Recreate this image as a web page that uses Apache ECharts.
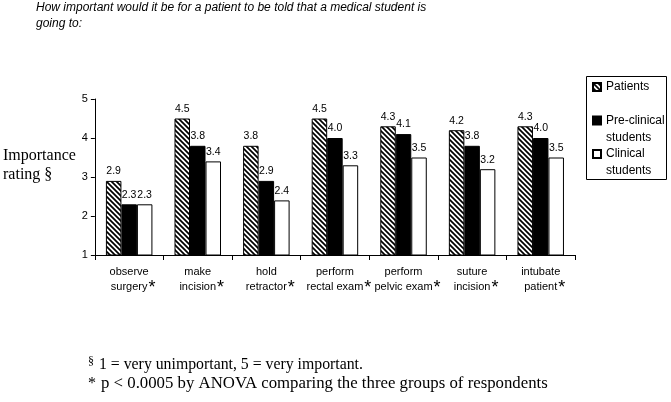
<!DOCTYPE html>
<html>
<head>
<meta charset="utf-8">
<script src="https://cdn.jsdelivr.net/npm/echarts@6/dist/echarts.min.js"></script>
<style>html,body{margin:0;padding:0;background:#fff;}#c{width:671px;height:402px;}</style>
</head>
<body>
<div id="c"></div>
<script>
const categories = ['observe\nsurgery', 'make\nincision', 'hold\nretractor', 'perform\nrectal exam', 'perform\npelvic exam', 'suture\nincision', 'intubate\npatient'];
const patients = [2.9, 4.5, 3.8, 4.5, 4.3, 4.2, 4.3];
const preclinical = [2.3, 3.8, 2.9, 4.0, 4.1, 3.8, 4.0];
const clinical = [2.3, 3.4, 2.4, 3.3, 3.5, 3.2, 3.5];
const seriesNames = ['Patients', 'Pre-clinical\nstudents', 'Clinical\nstudents'];
const yTicks = [1, 2, 3, 4, 5];

function hatch() {
  const c = document.createElement('canvas');
  c.width = 5; c.height = 5;
  const g = c.getContext('2d');
  g.fillStyle = '#fff'; g.fillRect(0, 0, 5, 5);
  g.strokeStyle = '#000'; g.lineWidth = 1.7;
  g.beginPath();
  g.moveTo(-1, -1); g.lineTo(6, 6);
  g.moveTo(-1, 4); g.lineTo(1, 6);
  g.moveTo(4, -1); g.lineTo(6, 1);
  g.stroke();
  return c;
}

const chart = echarts.init(document.getElementById('c'), null, {renderer: 'canvas'});
const sans = 'Arial, "Liberation Sans", sans-serif';
const serif = '"Times New Roman", "Liberation Serif", serif';

const labelCfg = {
  show: true, position: 'top', distance: 4,
  fontSize: 10.5, fontFamily: sans, color: '#000',
  formatter: p => p.value.toFixed(1)
};
const fills = [{image: hatch(), repeat: 'repeat'}, '#000', '#fff'];
const datas = [patients, preclinical, clinical];

chart.setOption({
  animation: false,
  title: [
    {
      text: 'How important would it be for a patient to be told that a medical student is\ngoing to:',
      left: 36, top: 0, padding: 0,
      textStyle: {fontSize: 12, fontStyle: 'italic', fontWeight: 'normal', fontFamily: sans, color: '#000', lineHeight: 15.5}
    },
    {
      text: '{s|§} {t|1 = very unimportant, 5 = very important.}',
      left: 88, top: 356, padding: 0,
      textStyle: {
        fontWeight: 'normal',
        rich: {
          s: {fontSize: 12, fontWeight: 'normal', fontFamily: serif, color: '#000', lineHeight: 18, verticalAlign: 'top'},
          t: {fontSize: 15.8, fontWeight: 'normal', fontFamily: serif, color: '#000', lineHeight: 18}
        }
      }
    },
    {
      text: '{s|*} {t|p < 0.0005 by ANOVA comparing the three groups of respondents}',
      left: 88, top: 374.5, padding: 0,
      textStyle: {
        fontWeight: 'normal',
        rich: {
          s: {fontSize: 16, fontWeight: 'normal', fontFamily: serif, color: '#000', lineHeight: 18},
          t: {fontSize: 16.8, fontWeight: 'normal', fontFamily: serif, color: '#000', lineHeight: 18}
        }
      }
    }
  ],
  legend: {
    orient: 'vertical', left: 592, top: 62, padding: 0,
    icon: 'rect', itemWidth: 8, itemHeight: 8, itemGap: -16.6,
    data: seriesNames,
    formatter: name => name.indexOf('\n') < 0 ? '\n' + name + '\n ' : '\n' + name,
    textStyle: {fontSize: 12, fontFamily: sans, color: '#000', lineHeight: 16.7}
  },
  graphic: [{
    type: 'rect', shape: {x: 586.5, y: 76.5, width: 80, height: 103},
    style: {fill: 'none', stroke: '#000', lineWidth: 1}, silent: true
  }],
  grid: {left: 93, right: 96, top: 99, bottom: 147, containLabel: false},
  xAxis: {
    type: 'category', data: categories,
    axisLine: {lineStyle: {color: '#000', width: 1}},
    axisTick: {show: true, length: 5, lineStyle: {color: '#000'}},
    axisLabel: {
      interval: 0, margin: 10,
      formatter: v => {
        const [a, b] = v.split('\n');
        return '{a|' + a + '}\n{p| }{a|' + b + '}{s|*}';
      },
      rich: {
        a: {fontSize: 11, fontFamily: sans, color: '#000', lineHeight: 14.5},
        p: {fontSize: 11, width: 8, lineHeight: 14.5},
        s: {fontSize: 18, fontFamily: sans, color: '#000', lineHeight: 14.5, verticalAlign: 'top', padding: [0, 0, 0, 1]}
      }
    }
  },
  yAxis: {
    type: 'value', min: yTicks[0], max: yTicks[yTicks.length - 1], interval: 1,
    name: 'Importance\nrating §', nameLocation: 'middle', nameRotate: 0, nameGap: 90,
    nameTextStyle: {fontSize: 16, fontFamily: serif, color: '#000', align: 'left', verticalAlign: 'bottom', lineHeight: 18.5, padding: [0, 0, -6.75, 0]},
    axisLine: {show: true, lineStyle: {color: '#000', width: 1}},
    axisTick: {show: true, length: 4, lineStyle: {color: '#000'}},
    axisLabel: {fontSize: 11, fontFamily: sans, color: '#000', margin: 7},
    splitLine: {show: false}
  },
  series: datas.map((d, i) => ({
    name: seriesNames[i], type: 'bar', data: d,
    barWidth: 15.5, barGap: '0%',
    itemStyle: {color: fills[i], borderColor: '#000', borderWidth: 1},
    label: labelCfg
  }))
});
</script>
</body>
</html>
